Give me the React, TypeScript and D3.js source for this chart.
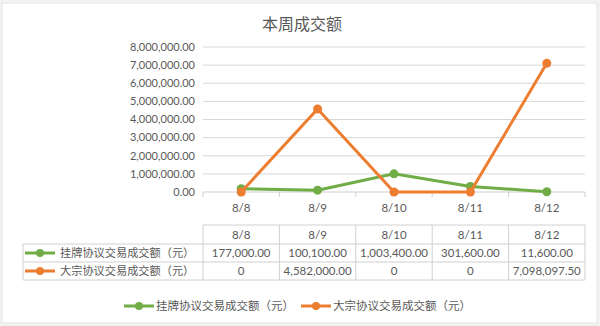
import * as d3 from 'd3';

const categories = ['8/8', '8/9', '8/10', '8/11', '8/12'];
const listedValues = [177000, 100100, 1003400, 301600, 11600];
const blockValues = [0, 4582000, 0, 0, 7098097.5];
const listedLabels = ['177,000.00', '100,100.00', '1,003,400.00', '301,600.00', '11,600.00'];
const blockLabels = ['0', '4,582,000.00', '0', '0', '7,098,097.50'];
const yTicks = [0, 1000000, 2000000, 3000000, 4000000, 5000000, 6000000, 7000000, 8000000];

const seriesNames = ['挂牌协议交易成交额（元）', '大宗协议交易成交额（元）'];
const seriesColors = ['#70AD47', '#ED7D31'];

const W = 600;
const H = 326;
const numFont = 'Lato, "Open Sans", sans-serif';
const cjkFont = '"Noto Sans CJK SC", sans-serif';

const App = () => {
  const x = d3.scaleBand().domain(categories).range([203, 585]);
  const y = d3.scaleLinear().domain([0, 8000000]).range([192, 47]);
  const fmt = d3.format(',.2f');

  const line = d3.line<number>()
    .x((d, i) => (x(categories[i]) as number) + x.bandwidth() / 2)
    .y(d => y(d));

  const series = [listedValues, blockValues];
  const rowLabels = [listedLabels, blockLabels];

  // table rows
  const headTop = 225;
  const rowTops = [244, 262];
  const tableBottom = 280;
  const tableLeft = 23;
  const border = '#d0d0d0';

  const legendKey = (cx: number, cy: number, color: string) => (
    <g>
      <line x1={cx - 15} x2={cx + 15} y1={cy} y2={cy} stroke={color} strokeWidth={3} />
      <circle cx={cx} cy={cy} r={4} fill={color} />
    </g>
  );

  return (
    <svg width={W} height={H} style={{ position: 'absolute', left: 0, top: 0, background: '#f2f2f2' }}>
      <rect x={2} y={3} width={595} height={320} fill="#fff" stroke="#e4e4e4" />

      <text x={302} y={30} textAnchor="middle" fontFamily={cjkFont} fontSize={16} fill="#595959">
        本周成交额
      </text>

      {/* gridlines + y labels */}
      {yTicks.map(t => (
        <g key={t}>
          <line x1={203} x2={585} y1={y(t)} y2={y(t)} stroke={t === 0 ? '#cfcfcf' : '#d9d9d9'} />
          <text x={195} y={y(t)} dy="0.35em" textAnchor="end" fontFamily={numFont} fontSize={11} fill="#595959">
            {fmt(t)}
          </text>
        </g>
      ))}

      {/* x ticks */}
      {[...categories.map(c => x(c) as number), 585].map((v, i) => (
        <line key={i} x1={v} x2={v} y1={192} y2={197} stroke="#cfcfcf" />
      ))}
      {categories.map(c => (
        <text key={c} x={(x(c) as number) + x.bandwidth() / 2} y={208} dy="0.35em" textAnchor="middle"
          fontFamily={numFont} fontSize={11.5} fill="#595959">
          {c}
        </text>
      ))}

      {/* lines */}
      {series.map((s, k) => (
        <g key={k}>
          <path d={line(s) as string} fill="none" stroke={seriesColors[k]} strokeWidth={3} strokeLinejoin="round" />
          {s.map((v, i) => (
            <circle key={i} cx={(x(categories[i]) as number) + x.bandwidth() / 2} cy={y(v)} r={4.5} fill={seriesColors[k]} />
          ))}
        </g>
      ))}

      {/* data table */}
      <g stroke={border} fill="none">
        <line x1={203} x2={585} y1={headTop} y2={headTop} />
        <line x1={tableLeft} x2={585} y1={rowTops[0]} y2={rowTops[0]} />
        <line x1={tableLeft} x2={585} y1={rowTops[1]} y2={rowTops[1]} />
        <line x1={tableLeft} x2={585} y1={tableBottom} y2={tableBottom} />
        <line x1={tableLeft} x2={tableLeft} y1={rowTops[0]} y2={tableBottom} />
        {[...categories.map(c => x(c) as number), 585].map((v, i) => (
          <line key={i} x1={v} x2={v} y1={headTop} y2={tableBottom} />
        ))}
      </g>
      {categories.map((c, i) => {
        const cx = (x(c) as number) + x.bandwidth() / 2;
        return (
          <g key={c} fontFamily={numFont} fontSize={11.5} fill="#595959" textAnchor="middle">
            <text x={cx} y={235} dy="0.35em">{c}</text>
            <text x={cx} y={253} dy="0.35em">{rowLabels[0][i]}</text>
            <text x={cx} y={271} dy="0.35em">{rowLabels[1][i]}</text>
          </g>
        );
      })}
      {seriesNames.map((n, k) => (
        <g key={n}>
          {legendKey(40, 253 + k * 18, seriesColors[k])}
          <text x={60} y={253 + k * 18} dy="0.35em" fontFamily={cjkFont} fontSize={11.2} fill="#595959">{n}</text>
        </g>
      ))}

      {/* bottom legend */}
      {seriesNames.map((n, k) => {
        const lx = k === 0 ? 139 : 316;
        return (
          <g key={n}>
            {legendKey(lx, 306, seriesColors[k])}
            <text x={lx + 17} y={306} dy="0.35em" fontFamily={cjkFont} fontSize={11.5} fill="#595959">{n}</text>
          </g>
        );
      })}
    </svg>
  );
};

export default App;
